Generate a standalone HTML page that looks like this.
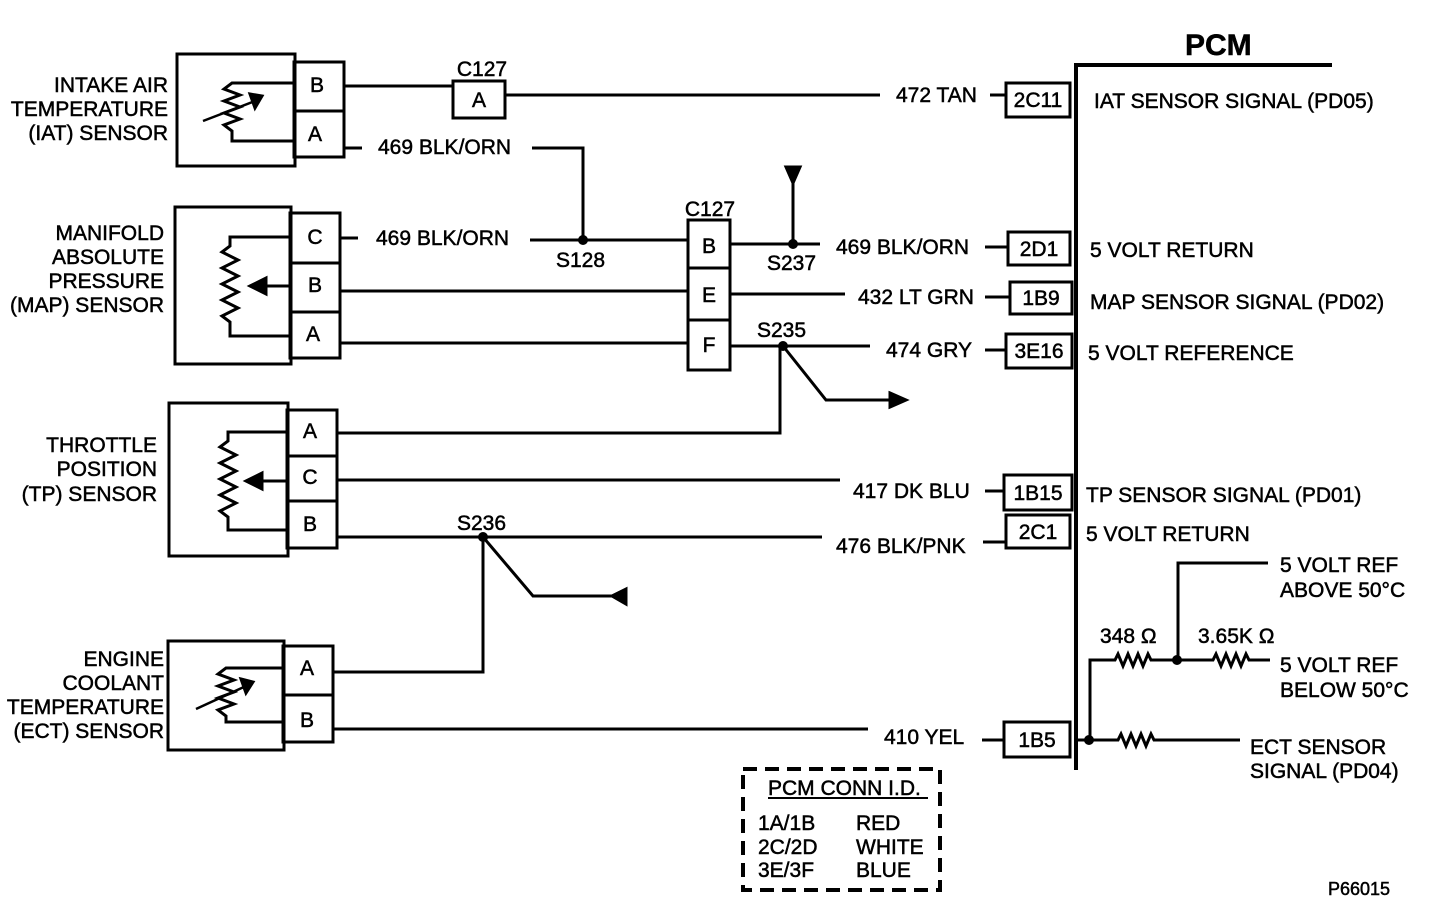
<!DOCTYPE html>
<html><head><style>
body{margin:0;background:#fff}
svg{display:block}
text{font-family:"Liberation Sans",Arial,sans-serif;font-size:21px;fill:#000;stroke:#000;stroke-width:0.5}
</style></head><body>
<svg width="1440" height="908" viewBox="0 0 1440 908" xmlns="http://www.w3.org/2000/svg">
<g fill="none" stroke="#000" stroke-width="3">
<path d="M1076 770V65H1332" stroke-width="4"/>
<rect x="177" y="54" width="118" height="112"/>
<rect x="294" y="62" width="50" height="95"/>
<path d="M294 111H344"/>
<path d="M294 83H232 l-8 6 l16 6 l-16 6 l16 6 l-16 6 l16 6 l-16 6 l8 6 V141H294"/>
<path d="M203 121L255 101" stroke-width="2.5"/>
<path d="M250 94L262 96L255 108Z" fill="#000"/>
<rect x="175" y="207" width="116" height="157"/>
<rect x="290" y="213" width="50" height="145"/>
<path d="M290 263H340M290 312H340"/>
<path d="M290 237H230 V246 l-8 6 l16 8 l-16 8 l16 8 l-16 8 l16 8 l-16 8 l16 8 l-16 8 l8 6 V336H290"/>
<path d="M290 286H262"/>
<path d="M250 286L266 278V294Z" fill="#000"/>
<rect x="169" y="403" width="119" height="153"/>
<rect x="287" y="410" width="50" height="138"/>
<path d="M287 456H337M287 501H337"/>
<path d="M287 432H228 V441 l-8 6 l16 8 l-16 8 l16 8 l-16 8 l16 8 l-16 8 l16 8 l-16 8 l8 6 V530H287"/>
<path d="M287 481H258"/>
<path d="M246 481L262 473V489Z" fill="#000"/>
<rect x="168" y="641" width="116" height="109"/>
<rect x="283" y="646" width="50" height="96"/>
<path d="M283 695H333"/>
<path d="M283 668H226 l-8 6 l16 6 l-16 6 l16 6 l-16 6 l16 6 l-16 6 l8 6 V722H283"/>
<path d="M196 709L246 686" stroke-width="2.5"/>
<path d="M241 679L253 682L246 693Z" fill="#000"/>
<rect x="453" y="81" width="52" height="37"/>
<path d="M344 86H453M505 95H880M990 95H1006"/>
<rect x="1006" y="83" width="64" height="34"/>
<path d="M344 148H362M532 148H583V240"/>
<path d="M340 238H358M530 240H688"/>
<rect x="688" y="220" width="42" height="150"/>
<path d="M688 268H730M688 320H730"/>
<path d="M730 244H820M793 244V180"/>
<path d="M786 167L800 167L793 183Z" fill="#000"/>
<path d="M985 247H1008"/>
<rect x="1008" y="232" width="62" height="33"/>
<path d="M340 291H688M730 294H845M985 297H1010"/>
<rect x="1010" y="282" width="62" height="32"/>
<path d="M340 343H688M730 346H870M985 350H1006"/>
<rect x="1006" y="334" width="66" height="34"/>
<path d="M783 346L826 400H890"/>
<path d="M906 400L890 393V407Z" fill="#000"/>
<path d="M337 433H780V346"/>
<path d="M337 480H840M985 491H1004"/>
<rect x="1004" y="475" width="68" height="35"/>
<path d="M337 537H822M983 542H1006"/>
<rect x="1006" y="515" width="64" height="33"/>
<path d="M483 537L533 596H612"/>
<path d="M612 596L626 589V604Z" fill="#000"/>
<path d="M483 537V672H333"/>
<path d="M333 729H868M982 740H1004"/>
<rect x="1004" y="722" width="66" height="35"/>
<path d="M1076 740H1118 l3 -6 l5 12 l5 -12 l5 12 l5 -12 l5 12 l5 -12 l3 6 H1240"/>
<path d="M1090 740V660H1115 l3 -6 l5 12 l5 -12 l5 12 l5 -12 l5 12 l5 -12 l3 6 H1213 l3 -6 l5 12 l5 -12 l5 12 l5 -12 l5 12 l5 -12 l3 6 H1270"/>
<path d="M1178 660V563H1268"/>
<rect x="743" y="769" width="197" height="121" stroke-dasharray="14 8" stroke-width="4"/>
<path d="M768 798H928" stroke-width="2"/>
</g>
<g fill="#000">
<circle cx="583" cy="240" r="5"/><circle cx="793" cy="244" r="5"/><circle cx="783" cy="346" r="5"/><circle cx="483" cy="537" r="5"/>
<circle cx="1089" cy="740" r="5"/><circle cx="1177" cy="660" r="5"/>
</g>
<text x="1185" y="55" style="font-size:30px;font-weight:bold">PCM</text>
<g text-anchor="end">
<text x="168" y="92">INTAKE AIR</text><text x="168" y="116">TEMPERATURE</text><text x="168" y="140">(IAT) SENSOR</text>
<text x="164" y="240">MANIFOLD</text><text x="164" y="264">ABSOLUTE</text><text x="164" y="288">PRESSURE</text><text x="164" y="312">(MAP) SENSOR</text>
<text x="157" y="452">THROTTLE</text><text x="157" y="476">POSITION</text><text x="157" y="501">(TP) SENSOR</text>
<text x="164" y="666">ENGINE</text><text x="164" y="690">COOLANT</text><text x="164" y="714">TEMPERATURE</text><text x="164" y="738">(ECT) SENSOR</text>
</g>
<g text-anchor="middle">
<text x="317" y="92">B</text><text x="315" y="141">A</text>
<text x="315" y="244">C</text><text x="315" y="292">B</text><text x="313" y="341">A</text>
<text x="310" y="438">A</text><text x="310" y="484">C</text><text x="310" y="531">B</text>
<text x="307" y="675">A</text><text x="307" y="727">B</text>
<text x="479" y="107">A</text><text x="482" y="76">C127</text>
<text x="709" y="253">B</text><text x="709" y="302">E</text><text x="709" y="352">F</text><text x="710" y="216">C127</text>
<text x="1038" y="107">2C11</text><text x="1039" y="256">2D1</text><text x="1041" y="305">1B9</text><text x="1039" y="358">3E16</text>
<text x="1038" y="500">1B15</text><text x="1038" y="539">2C1</text><text x="1037" y="747">1B5</text>
</g>
<text x="896" y="102">472 TAN</text>
<text x="378" y="154">469 BLK/ORN</text>
<text x="376" y="245">469 BLK/ORN</text>
<text x="556" y="267">S128</text>
<text x="767" y="270">S237</text>
<text x="836" y="254">469 BLK/ORN</text>
<text x="858" y="304">432 LT GRN</text>
<text x="886" y="357">474 GRY</text>
<text x="757" y="337">S235</text>
<text x="853" y="498">417 DK BLU</text>
<text x="836" y="553">476 BLK/PNK</text>
<text x="457" y="530">S236</text>
<text x="884" y="744">410 YEL</text>
<text x="1094" y="108">IAT SENSOR SIGNAL (PD05)</text>
<text x="1090" y="257">5 VOLT RETURN</text>
<text x="1090" y="309">MAP SENSOR SIGNAL (PD02)</text>
<text x="1088" y="360">5 VOLT REFERENCE</text>
<text x="1086" y="502">TP SENSOR SIGNAL (PD01)</text>
<text x="1086" y="541">5 VOLT RETURN</text>
<text x="1100" y="643">348 Ω</text>
<text x="1198" y="643">3.65K Ω</text>
<text x="1280" y="572">5 VOLT REF</text><text x="1280" y="597">ABOVE 50°C</text>
<text x="1280" y="672">5 VOLT REF</text><text x="1280" y="697">BELOW 50°C</text>
<text x="1250" y="754">ECT SENSOR</text><text x="1250" y="778">SIGNAL (PD04)</text>
<text x="768" y="795">PCM CONN I.D.</text>
<text x="758" y="830">1A/1B</text><text x="856" y="830">RED</text>
<text x="758" y="854">2C/2D</text><text x="856" y="854">WHITE</text>
<text x="758" y="877">3E/3F</text><text x="856" y="877">BLUE</text>
<text x="1328" y="895" style="font-size:18px">P66015</text>
</svg>
</body></html>
